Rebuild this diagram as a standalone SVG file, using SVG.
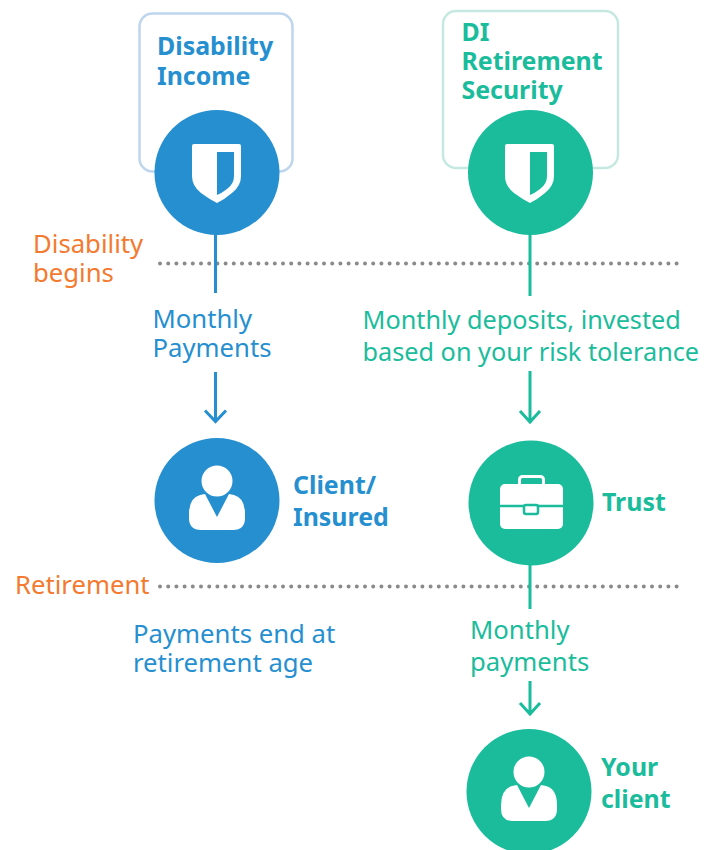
<svg xmlns="http://www.w3.org/2000/svg" xmlns:xlink="http://www.w3.org/1999/xlink" width="716" height="850" viewBox="0 0 716 850">
<style>
text{font-family:"Noto Sans","Open Sans","Liberation Sans",sans-serif;font-size:25.700px}
.b{font-weight:700;font-size:24.900px}
.long{font-size:25.250px}
.blue{fill:#268fd0}.teal{fill:#1abc9c}.or{fill:#f37a2f}
.dot{fill:none;stroke:#8a8a8a;stroke-width:4;stroke-linecap:round;stroke-dasharray:0 8.2}
.cb{fill:none;stroke:#268fd0;stroke-width:3}
.ct{fill:none;stroke:#1abc9c;stroke-width:3}
</style>
<defs>
<g id="shield"><path fill="#fff" d="M-25-28q0-2 2-2H22q2 0 2 2V2Q24 12 15 19Q8 25 0 29Q-8 25-16 19Q-25 12-25 2Z"/><path fill="currentColor" d="M0-22H17V2Q17 10 10 15Q5 19 0 21Z"/></g>
<g id="person" fill="#fff"><circle cx="0" cy="-19" r="15.500"/><path d="M-12-6L0 17L12-6L17-5Q28-2 28 14V18Q28 30 16 30H-16Q-28 30-28 18V14Q-28-2-17-5Z"/></g>
</defs>
<g id="lines">
<path class="dot" d="M160 263.500H680"/>
<path class="dot" d="M160 586.500H680"/>
</g>
<g id="box-di"><rect x="139.500" y="13.500" width="153" height="158" rx="13" fill="#fff" stroke="#bdd5ed" stroke-width="2.500"/><text class="b blue" x="157" y="55">Disability</text><text class="b blue" x="157" y="85">Income</text></g>
<g id="box-dirs"><rect x="443" y="11" width="175" height="157" rx="13" fill="#fff" stroke="#c5e9e1" stroke-width="2.500"/><text class="b teal" x="461.500" y="41">DI</text><text class="b teal" x="461.500" y="70">Retirement</text><text class="b teal" x="461.500" y="99">Security</text></g>
<g id="connectors">
<path class="cb" d="M215.500 234V293M215.500 372V421M205 410.500L215.500 421.500L226 410.500"/>
<path class="ct" d="M530 234V296M530 371V422M520 411L530 422L540 411M530 565V609M530 681V713M520 703L530 714L540 703"/>
</g>
<g id="node-di" color="#268fd0"><circle cx="217" cy="172.500" r="62.500" fill="#268fd0"/><use xlink:href="#shield" href="#shield" x="217" y="174"/></g>
<g id="node-dirs" color="#1abc9c"><circle cx="530.500" cy="172.500" r="62.500" fill="#1abc9c"/><use xlink:href="#shield" href="#shield" x="530" y="174"/></g>
<g id="node-client"><circle cx="217" cy="500.500" r="62.500" fill="#268fd0"/><use xlink:href="#person" href="#person" x="217" y="500"/><text class="b blue" x="293" y="494">Client/</text><text class="b blue" x="293" y="526">Insured</text></g>
<g id="node-trust"><circle cx="531" cy="503" r="62.500" fill="#1abc9c"/>
<rect x="519.500" y="476.500" width="24" height="14" rx="3" fill="none" stroke="#fff" stroke-width="3"/>
<rect x="500" y="484" width="63" height="45" rx="5" fill="#fff"/>
<path d="M500 506H563" stroke="#1abc9c" stroke-width="2.500"/>
<rect x="524" y="505" width="14" height="9" rx="2" fill="#fff" stroke="#1abc9c" stroke-width="2.500"/>
<text class="b teal" x="602" y="511">Trust</text></g>
<g id="node-yourclient"><circle cx="529" cy="791.500" r="62.500" fill="#1abc9c"/><use xlink:href="#person" href="#person" x="529" y="791"/><text class="b teal" x="601" y="776">Your</text><text class="b teal" x="601" y="808">client</text></g>
<g id="labels">
<text class="or" x="33" y="253">Disability</text><text class="or" x="33" y="282">begins</text>
<text class="or" x="15" y="594">Retirement</text>
<text class="blue" x="152.500" y="328">Monthly</text><text class="blue" x="152.500" y="357">Payments</text>
<text class="teal long" x="362.500" y="329">Monthly deposits, invested</text><text class="teal long" x="362.500" y="361">based on your risk tolerance</text>
<text class="blue" x="133" y="643">Payments end at</text><text class="blue" x="133" y="672">retirement age</text>
<text class="teal" x="470" y="639">Monthly</text><text class="teal" x="470" y="671">payments</text>
</g>
</svg>
